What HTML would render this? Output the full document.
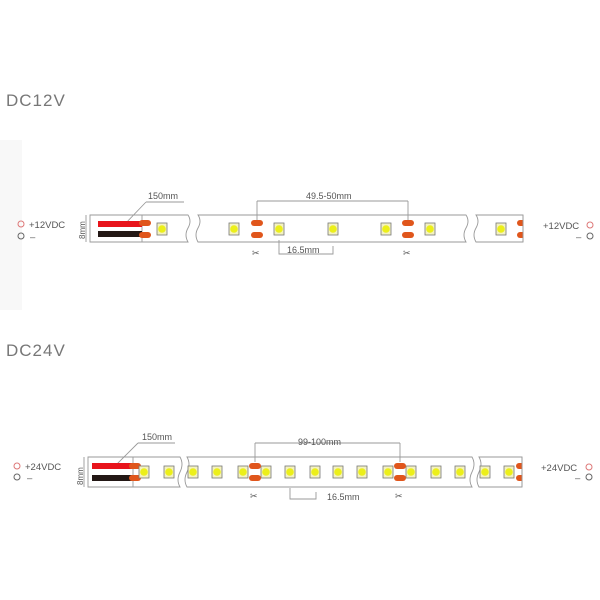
<!DOCTYPE html>
<html><head><meta charset="utf-8"><style>
html,body{margin:0;padding:0;background:#fff;}
svg{display:block;font-family:"Liberation Sans",sans-serif;}
</style></head><body>
<svg width="600" height="600" viewBox="0 0 600 600" xmlns="http://www.w3.org/2000/svg">
<defs>
<g id="led"><rect x="-5" y="-6" width="10" height="12" fill="#f4f2c0" stroke="#777" stroke-width="0.8"/><circle r="3.8" fill="#ecef1a"/></g>
<g id="pad"><rect x="-6" y="-9" width="12" height="6" rx="3" fill="#e0561c"/><rect x="-6" y="3" width="12" height="6" rx="3" fill="#e0561c"/></g>
</defs>
<rect x="0" y="140" width="22" height="170" fill="#f8f8f8"/>
<text x="6" y="106" font-size="17" fill="#777" letter-spacing="1">DC12V</text>
<text x="6" y="356" font-size="17" fill="#777" letter-spacing="1">DC24V</text>

<!-- strip 1 -->
<g stroke="#999" stroke-width="0.9" fill="none">
<path d="M90 215 H188 q4 6 0 13 q-4 7 0 14 H90 Z"/>
<path d="M198 215 H466 q4 6 0 13 q-4 7 0 14 H198 q-4-7 0-14 q4-7 0-13 Z"/>
<path d="M476 215 H523 V242 H476 q-4-7 0-14 q4-7 0-13 Z"/>
<line x1="142" y1="215" x2="142" y2="242"/>
<line x1="86" y1="215" x2="86" y2="242"/>
<line x1="257" y1="201" x2="408" y2="201"/>
<line x1="257" y1="201" x2="257" y2="222"/><line x1="408" y1="201" x2="408" y2="222"/>
<line x1="125" y1="224" x2="146" y2="202"/><line x1="146" y1="202" x2="184" y2="202"/>
<path d="M279 240 V254 H333 V246"/>
</g>
<rect x="98" y="221" width="44" height="6" fill="#e8141b"/>
<rect x="98" y="231" width="44" height="6" fill="#231815"/>
<use href="#pad" x="145" y="229"/>
<use href="#pad" x="257" y="229"/><use href="#pad" x="408" y="229"/>
<use href="#pad" x="523" y="229"/>
<rect x="523.5" y="214" width="10" height="30" fill="#fff"/>
<line x1="523" y1="215" x2="523" y2="242" stroke="#999" stroke-width="0.9"/>
<use href="#led" x="162" y="229"/><use href="#led" x="234" y="229"/><use href="#led" x="279" y="229"/>
<use href="#led" x="333" y="229"/><use href="#led" x="386" y="229"/><use href="#led" x="430" y="229"/><use href="#led" x="501" y="229"/>
<text x="148" y="199" font-size="9" fill="#555">150mm</text>
<text x="306" y="199" font-size="9" fill="#555">49.5-50mm</text>
<text x="287" y="253" font-size="9" fill="#555">16.5mm</text>
<text x="85" y="239" font-size="8" fill="#555" transform="rotate(-90 85 239)">8mm</text>
<text x="252" y="256" font-size="9" fill="#555">✂</text><text x="403" y="256" font-size="9" fill="#555">✂</text>
<circle cx="21" cy="224" r="3" fill="none" stroke="#d77" stroke-width="1"/>
<circle cx="21" cy="236" r="3" fill="none" stroke="#666" stroke-width="1"/>
<text x="29" y="228" font-size="9.5" fill="#555">+12VDC</text><text x="30" y="240" font-size="9.5" fill="#555">–</text>
<circle cx="590" cy="225" r="3" fill="none" stroke="#d77" stroke-width="1"/>
<circle cx="590" cy="236" r="3" fill="none" stroke="#666" stroke-width="1"/>
<text x="543" y="229" font-size="9.5" fill="#555">+12VDC</text><text x="576" y="240" font-size="9.5" fill="#555">–</text>

<!-- strip 2 -->
<g stroke="#999" stroke-width="0.9" fill="none">
<path d="M88 457 H180 q4 7 0 15 q-4 8 0 15 H88 Z"/>
<path d="M187 457 H472 q4 7 0 15 q-4 8 0 15 H187 q-4-7 0-15 q4-8 0-15 Z"/>
<path d="M479 457 H522 V487 H479 q-4-7 0-15 q4-8 0-15 Z"/>
<line x1="133" y1="457" x2="133" y2="487"/>
<line x1="84" y1="457" x2="84" y2="487"/>
<line x1="255" y1="443" x2="400" y2="443"/>
<line x1="255" y1="443" x2="255" y2="462"/><line x1="400" y1="443" x2="400" y2="462"/>
<line x1="115" y1="466" x2="138" y2="443"/><line x1="138" y1="443" x2="175" y2="443"/>
<path d="M290 488 V499 H316 V492"/>
</g>
<rect x="92" y="463" width="41" height="6" fill="#e8141b"/>
<rect x="92" y="475" width="41" height="6" fill="#231815"/>
<use href="#pad" x="135" y="472"/>
<g>
<use href="#led" x="144" y="472"/><use href="#led" x="169" y="472"/><use href="#led" x="193" y="472"/>
<use href="#led" x="217" y="472"/><use href="#led" x="243" y="472"/><use href="#led" x="266" y="472"/>
<use href="#led" x="290" y="472"/><use href="#led" x="315" y="472"/><use href="#led" x="338" y="472"/>
<use href="#led" x="362" y="472"/><use href="#led" x="388" y="472"/><use href="#led" x="411" y="472"/>
<use href="#led" x="436" y="472"/><use href="#led" x="460" y="472"/><use href="#led" x="485" y="472"/>
<use href="#led" x="509" y="472"/>
</g>
<use href="#pad" x="255" y="472"/><use href="#pad" x="400" y="472"/>
<use href="#pad" x="522" y="472"/>
<rect x="522.5" y="456" width="10" height="32" fill="#fff"/>
<line x1="522" y1="457" x2="522" y2="487" stroke="#999" stroke-width="0.9"/>
<text x="142" y="440" font-size="9" fill="#555">150mm</text>
<text x="298" y="445" font-size="9" fill="#555">99-100mm</text>
<text x="327" y="500" font-size="9" fill="#555">16.5mm</text>
<text x="83" y="485" font-size="8" fill="#555" transform="rotate(-90 83 485)">8mm</text>
<text x="250" y="499" font-size="9" fill="#555">✂</text><text x="395" y="499" font-size="9" fill="#555">✂</text>
<circle cx="17" cy="466" r="3" fill="none" stroke="#d77" stroke-width="1"/>
<circle cx="17" cy="477" r="3" fill="none" stroke="#666" stroke-width="1"/>
<text x="25" y="470" font-size="9.5" fill="#555">+24VDC</text><text x="27" y="481" font-size="9.5" fill="#555">–</text>
<circle cx="589" cy="467" r="3" fill="none" stroke="#d77" stroke-width="1"/>
<circle cx="589" cy="477" r="3" fill="none" stroke="#666" stroke-width="1"/>
<text x="541" y="471" font-size="9.5" fill="#555">+24VDC</text><text x="575" y="481" font-size="9.5" fill="#555">–</text>
</svg>
</body></html>
